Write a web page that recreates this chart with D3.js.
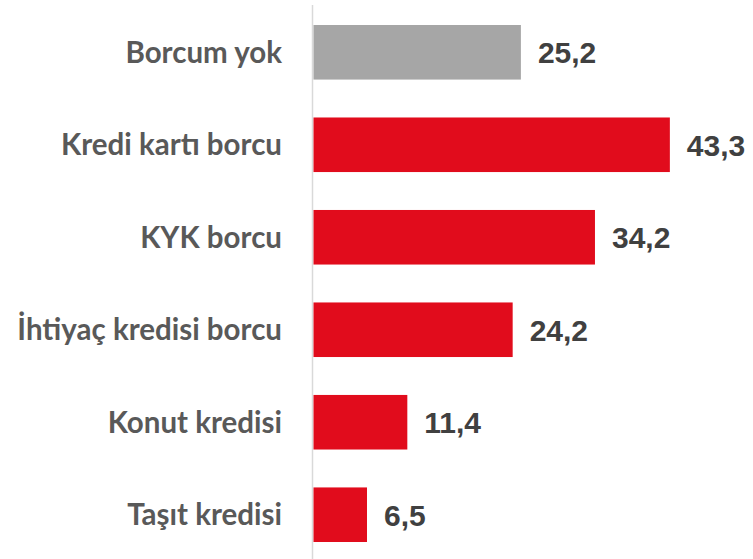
<!DOCTYPE html>
<html>
<head>
<meta charset="utf-8">
<script src="https://cdn.jsdelivr.net/npm/d3@7"></script>
<style>
  body { margin: 0; background: #fff; }
  svg { display: block; }
</style>
</head>
<body>
<svg id="chart" width="753" height="559"></svg>
<script>
const categories = ["Borcum yok", "Kredi kartı borcu", "KYK borcu", "İhtiyaç kredisi borcu", "Konut kredisi", "Taşıt kredisi"];
const values = [25.2, 43.3, 34.2, 24.2, 11.4, 6.5];
const valueLabels = ["25,2", "43,3", "34,2", "24,2", "11,4", "6,5"];
const highlight = [true, false, false, false, false, false];

const svg = d3.select("#chart");

const x = d3.scaleLinear().domain([0, 50]).range([313.5, 725]);
const y = d3.scaleBand()
    .domain(categories)
    .range([6.5, 560.5])
    .paddingInner(0.41)
    .paddingOuter(0.2);

// vertical axis line
svg.append("line")
    .attr("x1", 312.5).attr("x2", 312.5)
    .attr("y1", 5).attr("y2", 559)
    .attr("stroke", "#d9d9d9")
    .attr("stroke-width", 1.5);

// bars
svg.selectAll("rect.bar")
    .data(categories)
    .join("rect")
    .attr("class", "bar")
    .attr("x", x(0))
    .attr("y", d => y(d))
    .attr("width", (d, i) => x(values[i]) - x(0))
    .attr("height", y.bandwidth())
    .attr("fill", (d, i) => highlight[i] ? "#a6a6a6" : "#e10c1c");

// category labels
svg.selectAll("text.cat")
    .data(categories)
    .join("text")
    .attr("class", "cat")
    .attr("x", 282)
    .attr("y", d => y(d) + y.bandwidth() / 2)
    .attr("dy", "0.36em")
    .attr("text-anchor", "end")
    .attr("font-family", "Lato, 'Open Sans', sans-serif")
    .attr("font-weight", "bold")
    .attr("font-size", 29.5)
    .attr("fill", "#595959")
    .text(d => d);

// value labels
svg.selectAll("text.val")
    .data(categories)
    .join("text")
    .attr("class", "val")
    .attr("x", (d, i) => x(values[i]) + 17)
    .attr("y", d => y(d) + y.bandwidth() / 2)
    .attr("dy", "0.36em")
    .attr("font-family", "'Liberation Sans', Arial, sans-serif")
    .attr("font-weight", "bold")
    .attr("font-size", 30)
    .attr("fill", "#404040")
    .text((d, i) => valueLabels[i]);
</script>
</body>
</html>
